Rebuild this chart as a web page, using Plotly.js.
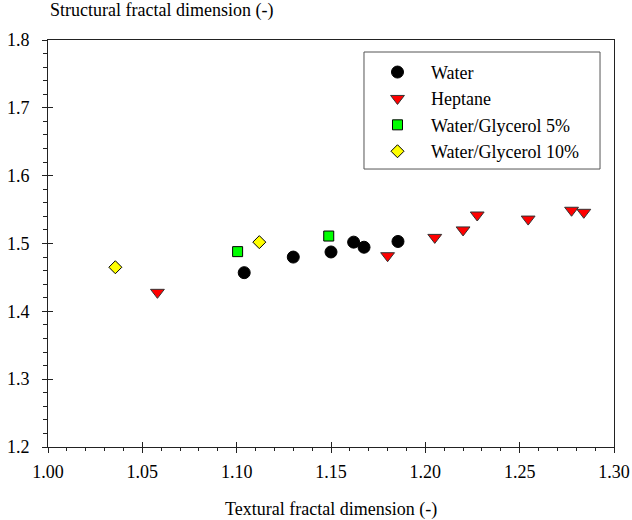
<!DOCTYPE html>
<html>
<head>
<meta charset="utf-8">
<script src="https://cdn.plot.ly/plotly-3.0.1.min.js"></script>
<style>html,body{margin:0;padding:0;background:#fff;}#chart{width:632px;height:520px;}</style>
</head>
<body>
<div id="chart"></div>
<script>
// Data
const waterX = [1.104, 1.130, 1.150, 1.162, 1.1675, 1.1855];
const waterY = [1.457, 1.480, 1.4875, 1.502, 1.4945, 1.503];
const heptaneX = [1.058, 1.180, 1.205, 1.220, 1.2275, 1.2545, 1.2775, 1.284];
const heptaneY = [1.428, 1.482, 1.509, 1.520, 1.542, 1.536, 1.549, 1.546];
const glyc5X = [1.1005, 1.1488];
const glyc5Y = [1.488, 1.511];
const glyc10X = [1.0357, 1.112];
const glyc10Y = [1.465, 1.502];
const seriesNames = ["Water", "Heptane", "Water/Glycerol 5%", "Water/Glycerol 10%"];
const xTitle = "Textural fractal dimension (-)";
const yTitle = "Structural fractal dimension (-)";

const FONT = "Liberation Serif";
const AX = "#222222";

const traces = [
  {x: waterX, y: waterY, name: seriesNames[0], type: "scatter", mode: "markers",
   marker: {symbol: "circle", size: 12, color: "#000000", line: {color: "#000000", width: 1}}},
  {x: heptaneX, y: heptaneY, name: seriesNames[1], type: "scatter", mode: "markers",
   marker: {symbol: "triangle-down", size: 12, color: "#ff0000", line: {color: "#333333", width: 1}}},
  {x: glyc5X, y: glyc5Y, name: seriesNames[2], type: "scatter", mode: "markers",
   marker: {symbol: "square", size: 10, color: "#00ff00", line: {color: "#000000", width: 1}}},
  {x: glyc10X, y: glyc10Y, name: seriesNames[3], type: "scatter", mode: "markers",
   marker: {symbol: "diamond", size: 10, color: "#ffff00", line: {color: "#000000", width: 1}}},
  // invisible trace activating the overlay axes (inner halves of the major ticks)
  {x: [1.0], y: [1.2], xaxis: "x2", yaxis: "y2", type: "scatter", mode: "markers",
   marker: {opacity: 0}, showlegend: false, hoverinfo: "skip"}
];

const layout = {
  width: 632, height: 520,
  margin: {l: 48, r: 18, t: 40, b: 73},
  paper_bgcolor: "#ffffff", plot_bgcolor: "#ffffff",
  font: {family: FONT, size: 18, color: "#000000"},
  showlegend: true,
  xaxis: {
    range: [1.0, 1.3], dtick: 0.05, tick0: 1.0, tickformat: ".2f",
    showgrid: false, zeroline: false,
    showline: true, linecolor: AX, linewidth: 1, mirror: true,
    ticks: "outside", ticklen: 5, tickcolor: AX, tickwidth: 1,
    ticklabelstandoff: 3,
    minor: {dtick: 0.01, ticks: "outside", ticklen: 3, tickcolor: AX, showgrid: false},
    tickfont: {family: FONT, size: 18, color: "#000"}
  },
  yaxis: {
    range: [1.2, 1.8], dtick: 0.1, tick0: 1.2, tickformat: ".1f",
    showgrid: false, zeroline: false,
    showline: true, linecolor: AX, linewidth: 1, mirror: true,
    ticks: "outside", ticklen: 5, tickcolor: AX, tickwidth: 1,
    ticklabelstandoff: 9,
    minor: {dtick: 0.02, ticks: "outside", ticklen: 4, tickcolor: AX, showgrid: false},
    tickfont: {family: FONT, size: 18, color: "#000"}
  },
  xaxis2: {
    overlaying: "x", range: [1.0, 1.3], dtick: 0.05, tick0: 1.0,
    showgrid: false, zeroline: false, showline: false, showticklabels: false,
    ticks: "inside", ticklen: 5, tickcolor: AX, tickwidth: 1
  },
  yaxis2: {
    overlaying: "y", range: [1.2, 1.8], dtick: 0.1, tick0: 1.2,
    showgrid: false, zeroline: false, showline: false, showticklabels: false,
    ticks: "inside", ticklen: 5, tickcolor: AX, tickwidth: 1
  },
  legend: {
    x: 0.5583, y: 0.966, xanchor: "left", yanchor: "top",
    bgcolor: "rgba(0,0,0,0)", borderwidth: 0,
    font: {family: FONT, size: 18, color: "#000"},
    itemwidth: 57
  },
  shapes: [
    {type: "rect", xref: "paper", yref: "paper", x0: 0.5583, x1: 0.9753, y0: 0.683, y1: 0.9705,
     line: {color: "#555555", width: 1}, fillcolor: "#ffffff", layer: "below"}
  ],
  annotations: [
    {text: yTitle, xref: "paper", yref: "paper", x: 0, y: 1, xanchor: "left", yanchor: "bottom",
     yshift: 17, showarrow: false, font: {family: FONT, size: 18, color: "#000"}},
    {text: xTitle, xref: "paper", yref: "paper", x: 0.5, y: 0, xanchor: "center", yanchor: "middle",
     yshift: -62, showarrow: false, font: {family: FONT, size: 18, color: "#000"}}
  ]
};

Plotly.newPlot("chart", traces, layout, {displayModeBar: false});
</script>
</body>
</html>
